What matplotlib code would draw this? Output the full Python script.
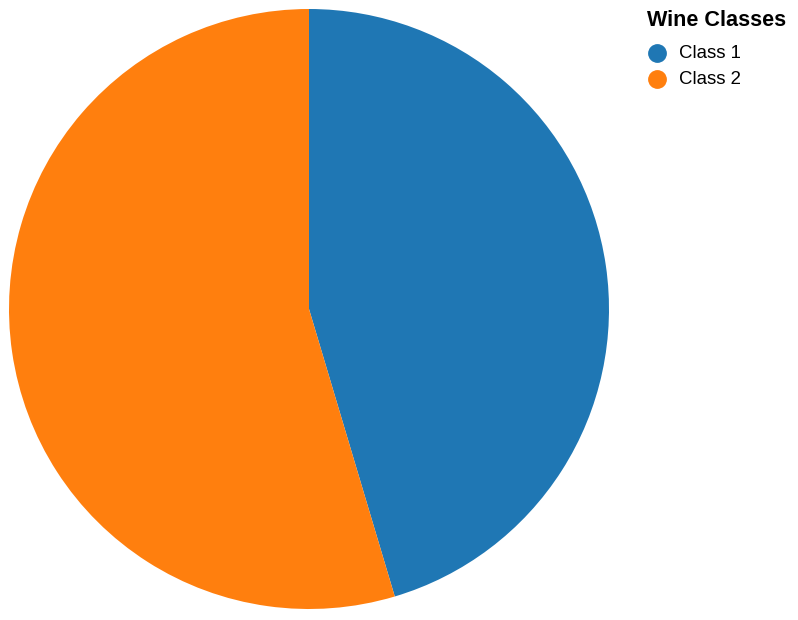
import matplotlib
matplotlib.use("Agg")
import matplotlib.pyplot as plt
from matplotlib.lines import Line2D

# ── Data ──────────────────────────────────────────────────────────────
CLASSES = ["Class 1", "Class 2"]
COUNTS = [59, 71]
COLORS = ["#1f77b4", "#ff7f0e"]

plt.rcParams["font.family"] = ["Liberation Sans", "DejaVu Sans"]

W, H = 798, 620
fig = plt.figure(figsize=(W / 100, H / 100), dpi=100)

# pie centred at (309, 309) px, radius 300 px
cx, cy, r = 309, 309, 300
ax = fig.add_axes([(cx - r) / W, (H - cy - r) / H, 2 * r / W, 2 * r / H])
ax.pie(COUNTS, colors=COLORS, startangle=90, counterclock=False,
       radius=1.0, wedgeprops=dict(linewidth=0))
ax.set_xlim(-1, 1)
ax.set_ylim(-1, 1)
ax.set_aspect("equal")
ax.axis("off")

# ── Legend ────────────────────────────────────────────────────────────
fig.text(647 / W, 1 - 21 / H, "Wine Classes", fontsize=15.6,
         fontweight="bold", ha="left", va="center")
for i, (lab, col) in enumerate(zip(CLASSES, COLORS)):
    y = 1 - (53 + 26 * i) / H
    fig.add_artist(Line2D([657 / W], [y], marker="o", markersize=12.5,
                          color=col, linestyle="none",
                          transform=fig.transFigure))
    fig.text(679 / W, y, lab, fontsize=13.4, ha="left", va="center")

fig.savefig("out.png", dpi=100)
